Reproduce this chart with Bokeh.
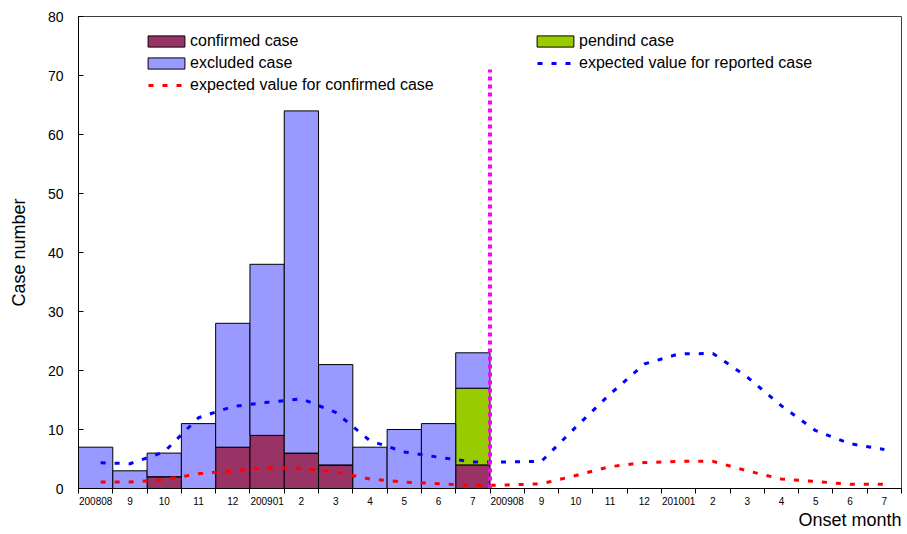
from bokeh.plotting import figure
from bokeh.models import Range1d, FixedTicker, Legend, LegendItem, ColumnDataSource, Title
from bokeh.embed import file_html
from bokeh.resources import INLINE

months = ["200808", "9", "10", "11", "12", "200901", "2", "3", "4", "5", "6", "7",
          "200908", "9", "10", "11", "12", "201001", "2", "3", "4", "5", "6", "7"]
confirmed = [0, 0, 2, 0, 7, 9, 6, 4, 0, 0, 0, 4]
pending = [0, 0, 0, 0, 0, 0, 0, 0, 0, 0, 0, 13]
excluded = [7, 3, 4, 11, 21, 29, 58, 17, 7, 10, 11, 6]
expected_reported = [4.4, 4.2, 6.2, 12.0, 13.9, 14.6, 15.2, 12.9, 8.1, 6.2, 5.3, 4.5,
                     4.5, 4.6, 10.4, 16.0, 21.1, 22.8, 22.9, 18.9, 14.0, 9.8, 7.6, 6.6]
expected_confirmed = [1.1, 1.1, 1.5, 2.5, 3.0, 3.5, 3.4, 2.8, 1.6, 1.1, 0.8, 0.5,
                      0.6, 0.8, 2.2, 3.7, 4.4, 4.6, 4.6, 3.0, 1.6, 1.2, 0.7, 0.7]
y_ticks = [0, 10, 20, 30, 40, 50, 60, 70, 80]
cutoff_index = 12
cutoff_top = 71

n_all = len(months)
centers = [i + 0.5 for i in range(n_all)]
bar_src = ColumnDataSource(dict(x=centers[:len(confirmed)], confirmed=confirmed,
                                pending=pending, excluded=excluded))

FONT = "Liberation Sans"
W, H = 907, 534
LB, RB, TB, BB = 78, 6, 16, 46
FH = H - TB - BB
FW = W - LB - RB

p = figure(width=W, height=H, output_backend="svg", toolbar_location=None,
           x_range=Range1d(0, n_all), y_range=Range1d(0, 80),
           min_border_left=LB, min_border_right=RB, min_border_top=TB, min_border_bottom=BB)
p.xgrid.visible = False
p.ygrid.visible = False
p.outline_line_color = "#404040"
p.background_fill_color = "white"

bars = p.vbar_stack(["confirmed", "pending", "excluded"], x="x", width=1, source=bar_src,
                    fill_color=["#993366", "#99CC00", "#9999FF"], line_color="black", line_width=1)
r_conf, r_pend, r_excl = bars

r_blue = p.line(centers, expected_reported, line_color="#0000FF", line_width=3,
                line_dash="5 9", line_dash_offset=9)
r_red = p.line(centers, expected_confirmed, line_color="#FF0000", line_width=3,
               line_dash="5 9", line_dash_offset=9)
p.segment(x0=[cutoff_index], y0=[0], x1=[cutoff_index], y1=[cutoff_top],
          line_color="#FF00FF", line_width=4, line_dash="4 4")

# axes
xa = p.xaxis[0]
xa.ticker = FixedTicker(ticks=centers, minor_ticks=list(range(n_all + 1)))
xa.major_label_overrides = {c: lbl for c, lbl in zip(centers, months)}
xa.major_tick_out = 0
xa.major_tick_in = 0
xa.minor_tick_out = 5
xa.minor_tick_in = 0
xa.minor_tick_line_color = "black"
xa.axis_line_color = "black"
xa.major_label_standoff = 3
xa.major_label_text_font = FONT
xa.major_label_text_font_size = "10px"
xa.major_label_text_color = "black"

ya = p.yaxis[0]
ya.ticker = FixedTicker(ticks=y_ticks)
ya.major_tick_in = 5
ya.major_tick_out = 0
ya.minor_tick_line_color = None
ya.axis_line_color = "black"
ya.major_tick_line_color = "black"
ya.major_label_standoff = 15
ya.major_label_text_font = FONT
ya.major_label_text_font_size = "14px"
ya.major_label_text_color = "black"
ya.axis_label = "Case number"
ya.axis_label_text_font = FONT
ya.axis_label_text_font_size = "18px"
ya.axis_label_text_font_style = "normal"
ya.axis_label_text_color = "black"
ya.axis_label_standoff = 16

p.add_layout(Title(text="Onset month", align="right", text_font=FONT, text_font_size="18px",
                   text_font_style="normal", text_color="black", standoff=0, offset=0), "below")

common = dict(border_line_color=None, background_fill_alpha=0, padding=0, margin=0,
              spacing=2, glyph_width=46, glyph_height=14, label_standoff=1,
              label_height=20, label_text_font=FONT, label_text_font_size="16px",
              label_text_color="black")
leg1 = Legend(items=[LegendItem(label="confirmed case", renderers=[r_conf]),
                     LegendItem(label="excluded case", renderers=[r_excl]),
                     LegendItem(label="expected value for confirmed case", renderers=[r_red])],
              location=(65, FH - 15 - 64), **common)
leg2 = Legend(items=[LegendItem(label="pendind case", renderers=[r_pend]),
                     LegendItem(label="expected value for reported case", renderers=[r_blue])],
              location=(454, FH - 15 - 42), **common)
p.add_layout(leg1)
p.add_layout(leg2)

open("out.html", "w").write(file_html(p, INLINE))
